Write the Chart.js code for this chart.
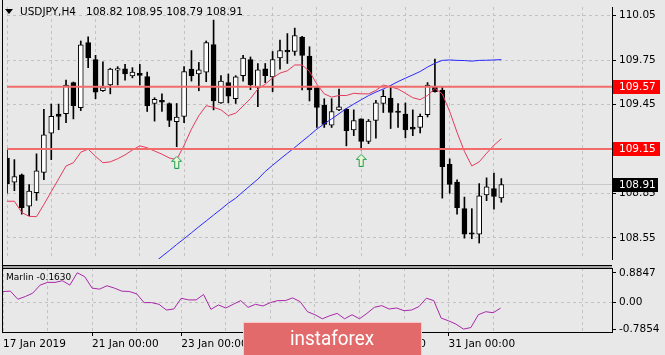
<!DOCTYPE html>
<html><head><meta charset="utf-8">
<script src="https://cdn.jsdelivr.net/npm/chart.js@4/dist/chart.umd.min.js"></script>
<style>
html,body{margin:0;padding:0;background:#e8e8e8;}
#wrap{position:relative;width:665px;height:355px;overflow:hidden;background:#e8e8e8;}
#cA{position:absolute;left:0;top:0;}
#cB{position:absolute;left:0;top:266px;}
</style></head><body>
<div id="wrap"><canvas id="cA" width="665" height="266"></canvas><canvas id="cB" width="665" height="89"></canvas></div>
<script>
// ---------- data ----------
const symbol = 'USDJPY,H4';
const candleOpen  = [109.089,108.925,108.976,108.764,108.855,108.992,109.256,109.386,109.388,109.598,109.429,109.868,109.753,109.543,109.582,109.682,109.691,109.643,109.660,109.639,109.457,109.479,109.457,109.334,109.370,109.689,109.656,109.669,109.855,109.461,109.598,109.489,109.645,109.753,109.565,109.691,109.637,109.764,109.810,109.808,109.905,109.777,109.565,109.446,109.310,109.414,109.418,109.279,109.353,109.201,109.342,109.457,109.494,109.403,109.386,109.297,109.295,109.381,109.569,109.548,109.046,108.927,108.747,108.578,108.574,108.840,108.883,108.82];
const candleHigh  = [109.154,109.078,108.981,108.909,109.117,109.418,109.453,109.453,109.615,109.602,109.879,109.907,109.782,109.738,109.695,109.706,109.721,109.699,109.721,109.669,109.496,109.522,109.461,109.457,109.706,109.814,109.734,109.879,110.020,109.645,109.656,109.645,109.782,109.771,109.727,109.727,109.808,109.885,109.929,109.966,109.911,109.840,109.569,109.489,109.489,109.554,109.424,109.414,109.353,109.349,109.479,109.548,109.576,109.457,109.461,109.414,109.386,109.598,109.756,109.569,109.083,108.942,108.825,108.747,108.916,108.955,108.987,108.95];
const candleLow   = [108.851,108.868,108.710,108.699,108.803,108.942,109.078,109.280,109.327,109.353,109.409,109.699,109.489,109.539,109.522,109.582,109.615,109.630,109.582,109.403,109.338,109.403,109.301,109.165,109.327,109.608,109.543,109.604,109.414,109.457,109.461,109.457,109.608,109.550,109.435,109.598,109.537,109.689,109.727,109.782,109.548,109.474,109.295,109.295,109.295,109.409,109.171,109.240,109.143,109.186,109.223,109.396,109.288,109.295,109.225,109.240,109.258,109.366,109.533,108.818,108.851,108.710,108.548,108.544,108.515,108.801,108.743,108.79];
const candleClose = [108.916,108.963,108.753,108.866,109.002,109.245,109.370,109.370,109.582,109.442,109.853,109.764,109.533,109.565,109.689,109.684,109.656,109.669,109.647,109.442,109.485,109.466,109.342,109.366,109.673,109.645,109.684,109.868,109.474,109.608,109.507,109.637,109.764,109.582,109.684,109.645,109.753,109.814,109.805,109.916,109.782,109.548,109.431,109.316,109.403,109.435,109.273,109.342,109.201,109.338,109.461,109.505,109.396,109.396,109.279,109.284,109.370,109.582,109.537,109.030,108.911,108.754,108.574,108.574,108.834,108.894,108.829,108.91];
const redMA  = [108.797,108.797,108.721,108.695,108.693,108.775,108.862,108.948,109.035,109.057,109.128,109.149,109.100,109.057,109.063,109.084,109.110,109.143,109.171,109.158,109.136,109.115,109.089,109.078,109.175,109.284,109.375,109.442,109.431,109.414,109.375,109.392,109.440,109.490,109.555,109.587,109.630,109.662,109.678,109.717,109.717,109.673,109.587,109.522,109.500,109.511,109.511,109.526,109.522,109.522,109.545,109.582,109.569,109.555,109.526,109.496,109.483,109.511,109.558,109.522,109.403,109.262,109.133,109.035,109.063,109.121,109.175,109.219];
const blueMA = [null,null,null,null,null,null,null,null,null,null,null,null,null,null,null,null,null,null,null,null,108.384,108.425,108.464,108.505,108.544,108.584,108.625,108.664,108.704,108.743,108.784,108.818,108.862,108.904,108.946,108.998,109.040,109.081,109.121,109.160,109.201,109.242,109.284,109.320,109.353,109.388,109.423,109.453,109.482,109.510,109.534,109.555,109.579,109.605,109.628,109.650,109.673,109.703,109.729,109.748,109.751,109.748,109.747,109.743,109.748,109.749,109.751,109.753];
const marlin = [0.33,0.34,0.10,0.18,0.28,0.52,0.60,0.60,0.65,0.52,0.8847,0.77,0.43,0.40,0.50,0.43,0.34,0.33,0.26,0.00,0.00,-0.05,-0.22,-0.19,0.13,0.08,0.08,0.24,-0.20,-0.07,-0.16,-0.05,0.06,-0.14,-0.05,-0.10,0.00,0.06,0.06,0.14,0.03,-0.27,-0.36,-0.48,-0.39,-0.32,-0.48,-0.36,-0.48,-0.32,-0.14,-0.09,-0.19,-0.16,-0.24,-0.22,-0.12,0.13,0.06,-0.46,-0.54,-0.64,-0.7854,-0.74,-0.36,-0.27,-0.30,-0.163];
const levelLines = [109.57, 109.15];
const lastPrice = 108.91;
const arrowIdx = [23, 48];
const arrowVal = [109.060, 109.073];
const priceTicks = [110.05, 109.75, 109.45, 109.15, 108.85, 108.55];
const gridIdx = [0,6,12,18,24,30,36,42,48,54,60,66,78];
const dateTickIdx = [0,12,24,36,48,60];
const dateTickLabels = ['17 Jan 2019','21 Jan 00:00','23 Jan 00:00','25 Jan 00:00','29 Jan 00:00','31 Jan 00:00'];
const marlinTicks = [0.8847, 0, -0.7854];
const marlinTickLabels = ['0.8847','0.00','-0.7854'];
const xMin = 0, xMax = 82;
const priceMin = 108.4071, priceMax = 110.1084;
const marlinMin = -0.872, marlinMax = 1.027;

// ---------- helpers ----------
Chart.defaults.font.family = '"DejaVu Sans"';
Chart.defaults.font.size = 10.5;
Chart.defaults.color = '#000';
const N = candleOpen.length;
const idx = Array.from({length:N},(_,i)=>i);
const xy = arr => arr.map((v,i)=>({x:i,y:v}));
const GRID = '#c2c2c2';

function makeArrow(){
  const c=document.createElement('canvas'); c.width=11; c.height=13;
  const g=c.getContext('2d');
  g.beginPath();
  g.moveTo(5.5,0.5); g.lineTo(10.5,5.5); g.lineTo(7.5,5.5); g.lineTo(7.5,12.5);
  g.lineTo(3.5,12.5); g.lineTo(3.5,5.5); g.lineTo(0.5,5.5); g.closePath();
  g.fillStyle='#eef6d6'; g.fill(); g.strokeStyle='#1a9c50'; g.lineWidth=1; g.stroke();
  return c;
}
const arrowImg = makeArrow();

const levelDatasets = levelLines.map(l=>({
  type:'line', data:[{x:xMin,y:l},{x:xMax,y:l}], borderColor:'rgb(242,108,108)', borderWidth:2,
  pointRadius:0, order:0
}));

const frameA = {
  id:'frameA',
  afterDraw(chart){
    const ctx=chart.ctx, ca=chart.chartArea, ys=chart.scales.y;
    ctx.save();
    ctx.fillStyle='#000';
    ctx.fillRect(2,0,1,266);
    ctx.fillRect(2,265,ca.right-2,1);
    // header
    ctx.beginPath(); ctx.moveTo(5,9); ctx.lineTo(13,9); ctx.lineTo(9,14); ctx.closePath(); ctx.fill();
    ctx.font='10.5px "DejaVu Sans"'; ctx.textBaseline='middle'; ctx.textAlign='left';
    ctx.fillText(symbol, 20, 12);
    const L = N-1;
    ctx.fillText([candleOpen[L],candleHigh[L],candleLow[L],candleClose[L]].map(v=>v.toFixed(2)).join(' '), 86, 12);
    // axis value boxes
    const boxes = levelLines.map(v=>({v,bg:'#ff0000',w:47})).concat([{v:lastPrice,bg:'#000000',w:45}]);
    boxes.forEach(b=>{
      const py = ys.getPixelForValue(b.v);
      ctx.fillStyle=b.bg; ctx.fillRect(613, Math.round(py)-7, b.w, 14);
      ctx.fillStyle='#fff'; ctx.fillText(b.v.toFixed(2), 619, Math.round(py));
    });
    ctx.restore();
  }
};

new Chart(document.getElementById('cA'), {
  type:'bar',
  data:{datasets:[
    ...levelDatasets,
    {type:'line', data:xy(arrowVal.map(()=>0)).map((p,k)=>({x:arrowIdx[k],y:arrowVal[k]})), showLine:false,
      pointStyle:arrowImg, pointRadius:6, order:0},
    {type:'line', data:xy(redMA), borderColor:'rgb(228,58,92)', borderWidth:1, pointRadius:0, order:1},
    {type:'line', data:xy(blueMA), borderColor:'rgb(40,40,255)', borderWidth:1, pointRadius:0, order:1, spanGaps:false},
    {type:'bar', data:idx.map(i=>({x:i,y:[candleOpen[i],candleClose[i]]})),
      backgroundColor:idx.map(i=>candleClose[i]>=candleOpen[i]?'#ffffff':'#000000'),
      borderColor:'#000', borderWidth:1, borderSkipped:false, barThickness:5, minBarLength:1.5, grouped:false, order:2},
    {type:'bar', data:idx.map(i=>({x:i,y:[candleLow[i],candleHigh[i]]})),
      backgroundColor:'#000', borderWidth:0, borderSkipped:false, barThickness:1, grouped:false, order:3},
    {type:'line', data:[{x:xMin,y:lastPrice},{x:xMax,y:lastPrice}], borderColor:'#c8c8c8', borderWidth:1, pointRadius:0, order:4}
  ]},
  options:{
    responsive:false, animation:false, events:[],
    layout:{padding:{top:3,left:3,right:0,bottom:1}},
    plugins:{legend:{display:false}, tooltip:{enabled:false}},
    scales:{
      x:{type:'linear', min:xMin, max:xMax, offset:false,
        afterBuildTicks:s=>{s.ticks=gridIdx.map(v=>({value:v}));},
        afterFit:s=>{s.height=0; s.paddingLeft=0; s.paddingRight=0;},
        ticks:{display:false},
        grid:{color:GRID, drawTicks:false, offset:false},
        border:{display:false, dash:[3,3]}},
      y:{position:'right', min:priceMin, max:priceMax,
        afterBuildTicks:s=>{s.ticks=priceTicks.map(v=>({value:v}));},
        afterFit:s=>{s.width=53; s.paddingTop=0; s.paddingBottom=0;},
        ticks:{color:'#000', padding:3, callback:v=>Number(v).toFixed(2)},
        grid:{color:GRID, tickColor:'#000', tickLength:4, tickBorderDash:[]},
        border:{display:true, color:'#000', width:1, dash:[3,3]}}
    }
  },
  plugins:[frameA]
});

const frameB = {
  id:'frameB',
  afterDraw(chart){
    const ctx=chart.ctx, ca=chart.chartArea;
    ctx.save();
    ctx.fillStyle='#a4a4a4'; ctx.fillRect(2,0,ca.right-2,2);
    ctx.fillStyle='#000'; ctx.fillRect(2,ca.top,ca.right-2,1); ctx.fillRect(2,0,1,ca.bottom+1);
    ctx.font='9px "DejaVu Sans"'; ctx.textBaseline='middle'; ctx.textAlign='left';
    ctx.fillText('Marlin '+marlin[N-1].toFixed(4), 6, 12);
    // watermark
    ctx.fillStyle='rgb(227,106,106)'; ctx.fillRect(243,56,179,33);
    ctx.strokeStyle='rgba(255,210,210,0.9)'; ctx.lineWidth=1; ctx.strokeRect(243.5,56.5,178,33);
    ctx.fillStyle='#fff'; ctx.font='20px Roboto'; ctx.textBaseline='alphabetic';
    ctx.fillText('instaforex', 290, 79, 84);
    ctx.restore();
  }
};

new Chart(document.getElementById('cB'), {
  type:'line',
  data:{datasets:[{data:xy(marlin), borderColor:'rgb(168,40,168)', borderWidth:1, pointRadius:0}]},
  options:{
    responsive:false, animation:false, events:[],
    layout:{padding:{top:2,left:3,right:0,bottom:0}},
    plugins:{legend:{display:false}, tooltip:{enabled:false}},
    scales:{
      x:{type:'linear', min:xMin, max:xMax, offset:false,
        afterBuildTicks:s=>{s.ticks=gridIdx.map(v=>({value:v}));},
        afterFit:s=>{s.height=23; s.paddingLeft=0; s.paddingRight=0;},
        ticks:{align:'start', maxRotation:0, autoSkip:false, padding:2, color:'#000',
          callback:v=>{const k=dateTickIdx.indexOf(v); return k>=0?dateTickLabels[k]:'';}},
        grid:{color:GRID, tickLength:4, tickBorderDash:[],
          tickColor:c=>(c.tick && dateTickIdx.indexOf(c.tick.value)>0)?'#000':'rgba(0,0,0,0)'},
        border:{display:true, color:'#000', width:1, dash:[3,3]}},
      y:{position:'right', min:marlinMin, max:marlinMax,
        afterBuildTicks:s=>{s.ticks=marlinTicks.map(v=>({value:v}));},
        afterFit:s=>{s.width=53; s.paddingTop=0; s.paddingBottom=0;},
        ticks:{color:'#000', padding:3, callback:v=>{const k=marlinTicks.indexOf(v); return k>=0?marlinTickLabels[k]:'';}},
        grid:{color:c=>(c.tick && c.tick.value===0)?GRID:'rgba(0,0,0,0)', tickColor:'#000', tickLength:4, tickBorderDash:[]},
        border:{display:true, color:'#000', width:1, dash:[3,3]}}
    }
  },
  plugins:[frameB]
});
</script>
</body></html>
